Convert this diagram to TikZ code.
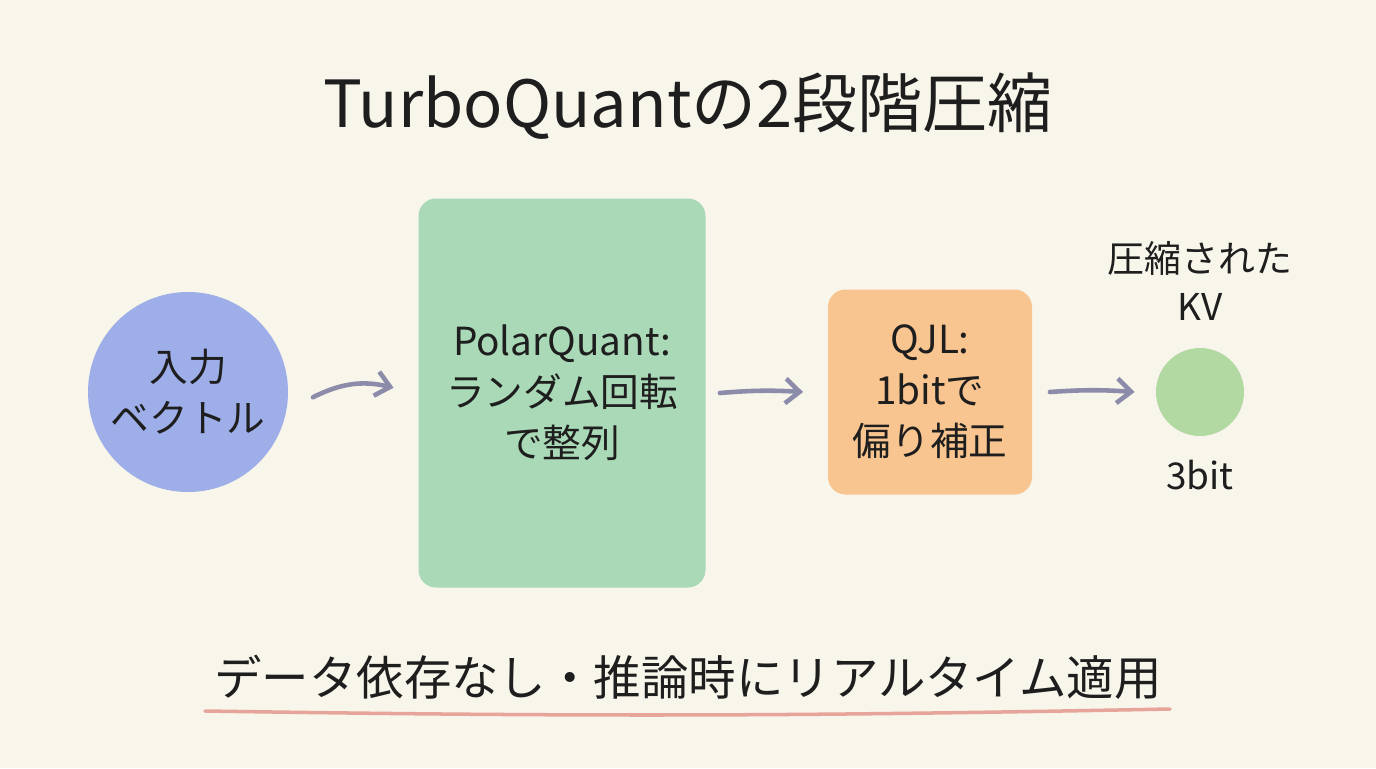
\documentclass[tikz,border=0pt]{standalone}
\usepackage{fontspec}
\setmainfont{Noto Sans CJK JP}
\usetikzlibrary{arrows.meta,positioning}
\definecolor{bgcol}{HTML}{F8F5EA}
\definecolor{bluecol}{HTML}{9DAEE8}
\definecolor{greencol}{HTML}{A9D9B6}
\definecolor{orangecol}{HTML}{F8C48F}
\definecolor{dotcol}{HTML}{B2D9A2}
\definecolor{arrcol}{HTML}{8C8CAA}
\definecolor{linecol}{HTML}{E6A49A}
\definecolor{txtcol}{HTML}{1E1E1E}
\begin{document}
\begin{tikzpicture}[x=0.02cm,y=-0.02cm,
  box/.style={rounded corners=10pt,align=center,text=txtcol,font=\fontsize{22}{29}\selectfont},
  lbl/.style={align=center,text=txtcol,font=\fontsize{21}{27}\selectfont},
  flow/.style={arrcol,line width=2.6pt,line cap=round,-{Straight Barb[length=8pt,width=14pt,line width=2.6pt]}}]
  \fill[bgcol] (0,0) rectangle (1376,768);
  \useasboundingbox (0,0) rectangle (1376,768);
  % title
  \node[text=txtcol,font=\fontsize{37}{42}\selectfont] (title) at (688,106) {TurboQuantの2段階圧縮};
  % stages
  \node[circle,fill=bluecol,minimum size=200*0.02cm,inner sep=0,box] (input) at (188,392) {入力\\ベクトル};
  \node[box,fill=greencol,minimum width=287*0.02cm,minimum height=389*0.02cm] (polar) at (562,393) {PolarQuant:\\ランダム回転\\で整列};
  \node[box,fill=orangecol,minimum width=204*0.02cm,minimum height=205*0.02cm] (qjl) at (930,392) {QJL:\\1bitで\\偏り補正};
  \node[circle,fill=dotcol,minimum size=88*0.02cm,inner sep=0] (out) at (1200,392) {};
  \node[lbl,above=12pt of out] (outlbl) {圧縮された\\KV};
  \node[lbl,below=10pt of out] (bits) {3bit};
  % arrows
  \draw[flow] ([xshift=14pt,yshift=-3pt]input.east) to[bend left=20] ([xshift=-14pt,yshift=3pt]polar.west);
  \draw[flow] ([xshift=8pt]polar.east) to[bend left=4] ([xshift=-14pt]qjl.west);
  \draw[flow] ([xshift=10pt]qjl.east) to[bend left=4] ([xshift=-12pt]out.west);
  % footer
  \node[text=txtcol,font=\fontsize{27}{32}\selectfont] (note) at (688,677) {データ依存なし・推論時にリアルタイム適用};
  \coordinate (ulA) at (205,711);
  \coordinate (ulB) at (1170,709);
  \draw[linecol,line width=2pt,line cap=round] (ulA) to[bend right=1] (ulB);
\end{tikzpicture}
\end{document}
